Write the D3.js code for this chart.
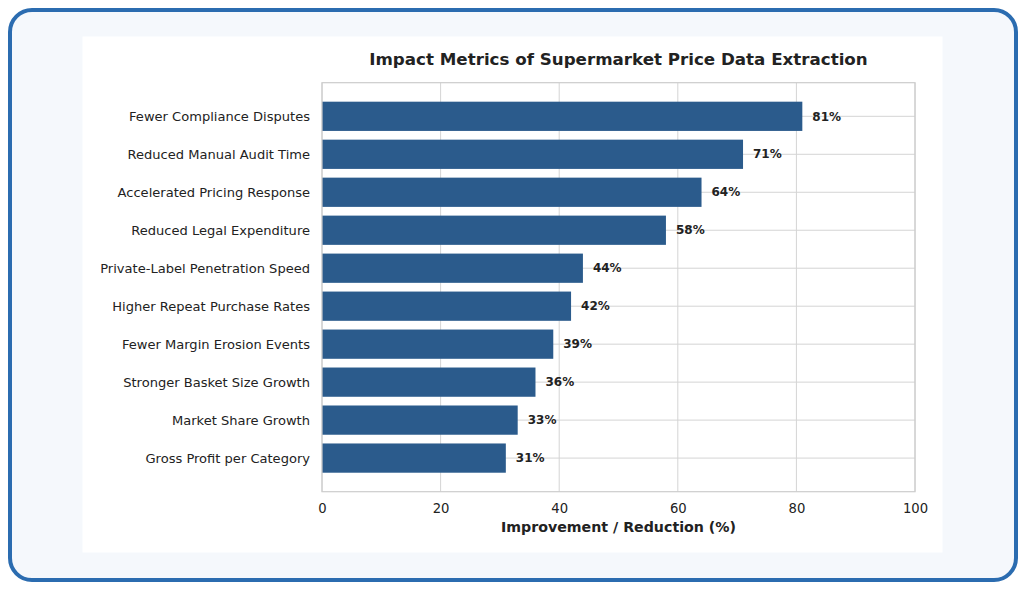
<!DOCTYPE html>
<html>
<head>
<meta charset="utf-8">
<script src="https://cdn.jsdelivr.net/npm/d3@7"></script>
<style>
  html, body { margin: 0; padding: 0; background: #ffffff; }
  svg { display: block; font-family: "DejaVu Sans", sans-serif; }
</style>
</head>
<body>
<div id="chart"></div>
<script>
// Chart data (top to bottom)
const categories = [
  "Fewer Compliance Disputes",
  "Reduced Manual Audit Time",
  "Accelerated Pricing Response",
  "Reduced Legal Expenditure",
  "Private-Label Penetration Speed",
  "Higher Repeat Purchase Rates",
  "Fewer Margin Erosion Events",
  "Stronger Basket Size Growth",
  "Market Share Growth",
  "Gross Profit per Category"
];
const values = [81, 71, 64, 58, 44, 42, 39, 36, 33, 31];
const xTicks = [0, 20, 40, 60, 80, 100];

const title = "Impact Metrics of Supermarket Price Data Extraction";
const xLabel = "Improvement / Reduction (%)";

function createBarChart(selector) {
  const width = 1026;
  const height = 589;
  const plot = { left: 322, right: 915, top: 82.7, bottom: 491.7 };

  const svg = d3.select(selector)
    .append("svg")
    .attr("width", width)
    .attr("height", height);

  // Card frame
  svg.append("rect")
    .attr("x", 10).attr("y", 10)
    .attr("width", 1006).attr("height", 570)
    .attr("rx", 22).attr("ry", 22)
    .attr("fill", "#f5f8fc")
    .attr("stroke", "#2b6cb0")
    .attr("stroke-width", 4);

  // White figure panel
  svg.append("rect")
    .attr("x", 82.5).attr("y", 36.5)
    .attr("width", 860).attr("height", 516)
    .attr("fill", "#ffffff");

  // Scales
  const x = d3.scaleLinear()
    .domain([0, 100])
    .range([plot.left, plot.right]);

  const y = d3.scaleLinear()
    .domain([-0.885, categories.length - 1 + 0.885])
    .range([plot.top, plot.bottom]);

  const barHeight = 0.77;

  // Grid lines
  svg.append("g")
    .selectAll("line.vgrid")
    .data(xTicks)
    .join("line")
    .attr("x1", d => x(d)).attr("x2", d => x(d))
    .attr("y1", plot.top).attr("y2", plot.bottom)
    .attr("stroke", "#d4d4d4")
    .attr("stroke-width", 1);

  svg.append("g")
    .selectAll("line.hgrid")
    .data(categories)
    .join("line")
    .attr("x1", plot.left).attr("x2", plot.right)
    .attr("y1", (d, i) => y(i)).attr("y2", (d, i) => y(i))
    .attr("stroke", "#d4d4d4")
    .attr("stroke-width", 1);

  // Bars
  svg.append("g")
    .selectAll("rect")
    .data(values)
    .join("rect")
    .attr("x", x(0))
    .attr("y", (d, i) => y(i - barHeight / 2))
    .attr("width", d => x(d) - x(0))
    .attr("height", y(barHeight) - y(0))
    .attr("fill", "#2b5b8c");

  // Plot frame
  svg.append("rect")
    .attr("x", plot.left).attr("y", plot.top)
    .attr("width", plot.right - plot.left)
    .attr("height", plot.bottom - plot.top)
    .attr("fill", "none")
    .attr("stroke", "#cccccc")
    .attr("stroke-width", 1.2);

  // Value labels
  svg.append("g")
    .selectAll("text")
    .data(values)
    .join("text")
    .attr("x", d => x(d) + 10)
    .attr("y", (d, i) => y(i))
    .attr("dy", "0.35em")
    .attr("font-size", 12)
    .attr("font-weight", "bold")
    .attr("fill", "#222222")
    .text(d => d + "%");

  // Y axis labels
  svg.append("g")
    .selectAll("text")
    .data(categories)
    .join("text")
    .attr("x", plot.left - 12)
    .attr("y", (d, i) => y(i) + 0.6)
    .attr("dy", "0.35em")
    .attr("text-anchor", "end")
    .attr("font-size", 13.05)
    .attr("fill", "#222222")
    .text(d => d);

  // X axis
  const xAxis = svg.append("g")
    .attr("transform", `translate(0,${plot.bottom})`)
    .call(d3.axisBottom(x).tickValues(xTicks).tickSize(0).tickPadding(12));
  xAxis.select(".domain").remove();
  xAxis.selectAll("text")
    .attr("font-family", "DejaVu Sans, sans-serif")
    .attr("font-size", 13.2)
    .attr("fill", "#222222");

  svg.append("text")
    .attr("x", (plot.left + plot.right) / 2)
    .attr("y", 532)
    .attr("text-anchor", "middle")
    .attr("font-size", 14.2)
    .attr("font-weight", "bold")
    .attr("fill", "#222222")
    .text(xLabel);

  // Title
  svg.append("text")
    .attr("x", (plot.left + plot.right) / 2)
    .attr("y", 65)
    .attr("text-anchor", "middle")
    .attr("font-size", 16.7)
    .attr("font-weight", "bold")
    .attr("fill", "#222222")
    .text(title);
}

createBarChart("#chart");
</script>
</body>
</html>
